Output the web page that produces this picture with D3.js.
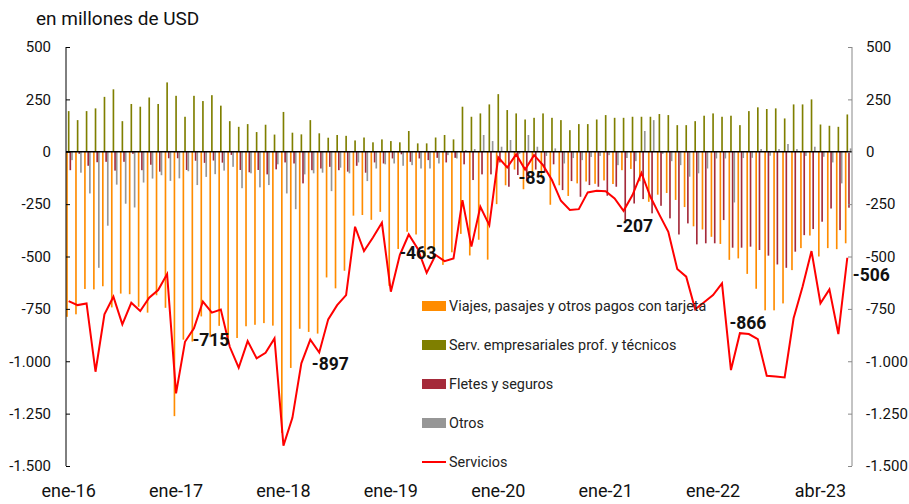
<!DOCTYPE html>
<html><head><meta charset="utf-8">
<script src="https://cdn.jsdelivr.net/npm/d3@7"></script>
<style>
body{margin:0;background:#fff;}
text{font-family:Roboto,"Liberation Sans",Arial,sans-serif;}
</style>
</head><body>
<svg id="c" width="909" height="504"></svg>
<script>
// ---------- DATA ----------
const monthNames = ["ene","feb","mar","abr","may","jun","jul","ago","sep","oct","nov","dic"];
const categories = [];
for (let y = 16; y <= 23; y++) for (let m = 0; m < 12; m++) { if (y === 23 && m > 3) break; categories.push(monthNames[m] + "-" + y); }

const viajes = [-788,-776,-655,-657,-642,-743,-677,-680,-740,-768,-685,-745,
  -1262,-897,-906,-786,-885,-831,-888,-889,-833,-826,-818,-830,
  -1342,-1032,-845,-860,-868,-600,-652,-568,-305,-302,-325,-287,
  -640,-464,-382,-395,-500,-475,-540,-480,-392,-495,-420,-515,
  -250,-160,-85,-179,-117,-127,-253,-160,-211,-151,-142,-153,
  -137,-154,-88,-82,-141,-239,-205,-197,-230,-264,-356,-371,
  -406,-440,-516,-509,-583,-654,-757,-757,-724,-565,-460,-400,
  -500,-460,-465,-437];
const servEmp = [194,151,194,207,262,298,146,228,215,259,228,331,
  267,167,267,242,270,220,146,119,132,94,129,82,
  190,91,83,151,88,67,80,76,54,68,45,59,
  51,45,99,40,40,68,80,59,215,167,183,226,
  275,199,183,154,162,183,162,151,103,132,132,154,
  175,162,162,167,167,167,180,175,127,127,146,172,
  183,167,172,127,194,212,204,207,159,226,226,250,
  130,124,119,178];
const fletes = [-88,-10,-67,-50,-48,-90,-48,-10,-88,-62,-95,-31,
  -31,-87,-43,-53,-42,-52,-15,-87,-98,-87,-108,-84,
  -51,-56,-151,-88,-80,-72,-88,-95,-67,-100,-51,-56,
  -32,-12,-48,-32,-40,-29,-51,-29,-60,-135,-108,-108,
  -51,-167,-111,-140,-85,-100,-60,-183,-140,-215,-159,-167,
  -210,-167,-326,-247,-226,-294,-258,-318,-395,-342,-442,-437,
  -437,-326,-458,-458,-453,-469,-496,-538,-554,-477,-398,-369,
  -334,-271,-374,-267];
const otros = [-40,-100,-199,-554,-353,-157,-248,-266,-147,-128,-112,-139,
  -127,-93,-159,-120,-107,-90,-72,-174,-103,-170,-159,-60,
  -199,-274,-108,-103,-100,-188,-76,-103,-51,-140,-80,-60,
  -56,-67,-64,-80,-80,-56,-16,-32,8,13,80,51,
  24,56,-10,80,24,-20,16,-56,-30,-40,-25,-20,
  -16,-64,-30,-45,99,151,-10,-45,-64,-119,-103,-80,
  -32,-32,-242,-30,-29,13,-19,13,37,13,-20,24,
  -24,-51,-151,16];
const servicios = [-713,-732,-724,-1050,-776,-692,-824,-721,-760,-697,-660,-584,
  -1153,-907,-843,-715,-768,-753,-931,-1031,-904,-986,-960,-891,
  -1403,-1270,-1010,-897,-958,-800,-732,-684,-358,-474,-409,-339,
  -668,-493,-395,-463,-578,-493,-522,-509,-231,-453,-263,-350,
  -27,-75,-13,-85,-16,-64,-135,-234,-278,-274,-194,-186,
  -188,-223,-282,-207,-101,-215,-300,-382,-560,-596,-752,-718,
  -684,-628,-1042,-866,-870,-895,-1069,-1073,-1077,-795,-644,-474,
  -723,-657,-870,-506];

const yTicks = [500,250,0,-250,-500,-750,-1000,-1250,-1500];
const yTickLabels = ["500","250","0","-250","-500","-750","-1.000","-1.250","-1.500"];
const xTickCats = ["ene-16","ene-17","ene-18","ene-19","ene-20","ene-21","ene-22","ene-23"];
const xTickLabels = ["ene-16","ene-17","ene-18","ene-19","ene-20","ene-21","ene-22","abr-23"];
const labelCats = ["abr-17","abr-18","abr-19","abr-20","abr-21","abr-22","abr-23"];

const seriesNames = ["Viajes, pasajes y otros pagos con tarjeta","Serv. empresariales prof. y técnicos","Fletes y seguros","Otros"];
const lineName = "Servicios";

// ---------- LAYOUT / STYLE ----------
const colors = ["#FF8C00","#7F7F00","#A52A3A","#969696"];
const lineColor = "#FF0000";
const labelOffsets = [[8,38],[20,24],[0,4],[7,8],[2,31],[8,-10],[24,17]];

const svg = d3.select("#c");
const plotL = 66, plotR = 852, plotT = 47, plotB = 466;

const x = d3.scalePoint().domain(categories).range([68.65, 847.3]);
const y = d3.scaleLinear().domain([-1500, 500]).range([plotB, plotT]);
const sub = d3.scaleBand().domain(d3.range(4)).range([-2.45, 4.15]);

const barSeries = [viajes, servEmp, fletes, otros];

// bars
barSeries.forEach((vals, k) => {
  svg.append("g").selectAll("rect").data(vals).join("rect")
    .attr("x", (d, i) => x(categories[i]) + sub(k))
    .attr("width", sub.bandwidth())
    .attr("y", d => y(Math.max(0, d)))
    .attr("height", d => Math.abs(y(d) - y(0)))
    .attr("fill", colors[k]);
});

// zero line
svg.append("line").attr("x1", plotL).attr("x2", plotR).attr("y1", y(0)).attr("y2", y(0))
  .attr("stroke", "#000").attr("stroke-width", 1.3);

const ff = "Roboto, 'Liberation Sans', Arial, sans-serif";
// left axis
const axL = svg.append("g").attr("transform", `translate(${plotL},0)`)
  .call(d3.axisLeft(y).tickValues(yTicks).tickSize(-4).tickPadding(15)
    .tickFormat((d, i) => yTickLabels[i]));
axL.select(".domain").attr("stroke", "#000").attr("d", `M-0,${plotT}V${plotB}`);
axL.selectAll(".tick line").attr("stroke", "#000");
axL.selectAll("text").attr("font-size", 15).attr("fill", "#111").style("font-family", ff);

// right axis
const axR = svg.append("g").attr("transform", `translate(${plotR},0)`)
  .call(d3.axisRight(y).tickValues(yTicks).tickSize(-4).tickPadding(14)
    .tickFormat((d, i) => yTickLabels[i]));
axR.select(".domain").attr("stroke", "#888").attr("d", `M0,${plotT}V${plotB}`);
axR.selectAll(".tick line").attr("stroke", "#888");
axR.selectAll("text").attr("font-size", 15).attr("fill", "#111").style("font-family", ff);

// x labels
svg.append("g").selectAll("text").data(xTickCats).join("text")
  .attr("x", d => x(d)).attr("y", 497).attr("text-anchor", "middle")
  .attr("font-size", 18).attr("fill", "#111").text((d, i) => xTickLabels[i]);

// line
const line = d3.line().x((d, i) => x(categories[i])).y(d => y(d));
svg.append("path").datum(servicios).attr("d", line).attr("fill", "none")
  .attr("stroke", lineColor).attr("stroke-width", 2).attr("stroke-linejoin", "miter");

// data labels
svg.append("g").selectAll("text").data(labelCats).join("text")
  .attr("x", (d, i) => x(d) + labelOffsets[i][0])
  .attr("y", (d, i) => y(servicios[categories.indexOf(d)]) + labelOffsets[i][1])
  .attr("text-anchor", "middle").attr("dominant-baseline", "central")
  .attr("font-size", 17.5).attr("font-weight", "bold").attr("fill", "#111")
  .text(d => String(servicios[categories.indexOf(d)]));

// title
svg.append("text").attr("x", 36).attr("y", 25).attr("font-size", 19).attr("fill", "#111")
  .text("en millones de USD");

// legend
const leg = svg.append("g").attr("transform", "translate(422,306)");
const rowH = 39;
seriesNames.forEach((name, k) => {
  const g = leg.append("g").attr("transform", `translate(0,${k * rowH})`);
  g.append("rect").attr("x", 0).attr("y", -5).attr("width", 24).attr("height", 10).attr("fill", colors[k]);
  g.append("text").attr("x", 27).attr("y", 0).attr("dominant-baseline", "central")
    .attr("font-size", 14.4).attr("fill", "#222").text(name);
});
const gl = leg.append("g").attr("transform", `translate(0,${4 * rowH})`);
gl.append("line").attr("x1", 0).attr("x2", 24).attr("y1", 0).attr("y2", 0)
  .attr("stroke", lineColor).attr("stroke-width", 2);
gl.append("text").attr("x", 27).attr("y", 0).attr("dominant-baseline", "central")
  .attr("font-size", 14.4).attr("fill", "#222").text(lineName);
</script>
</body></html>
